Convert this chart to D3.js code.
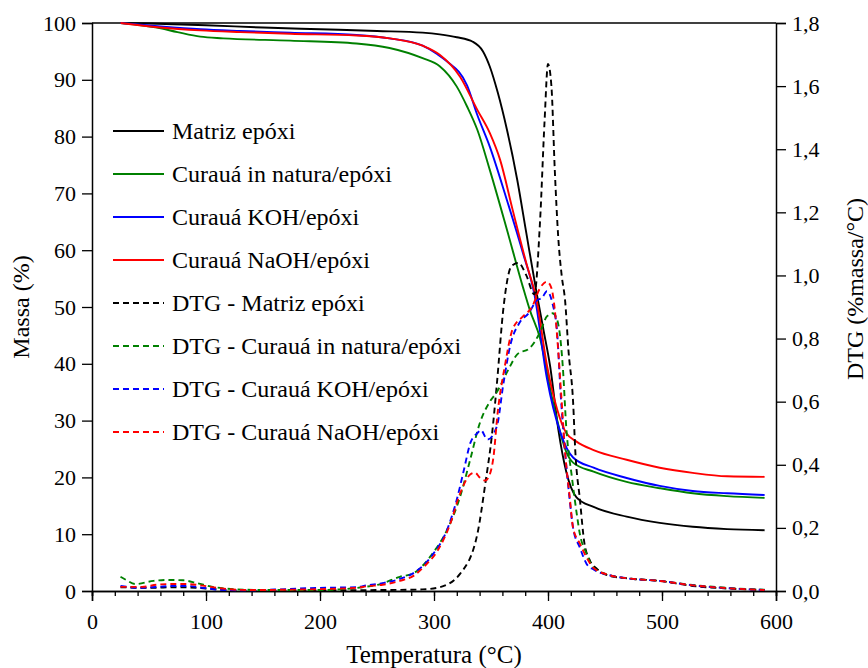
<!DOCTYPE html>
<html><head><meta charset="utf-8">
<script src="https://cdn.jsdelivr.net/npm/d3@7"></script>
<style>body{margin:0;background:#fff}svg{display:block}text{font-family:"Liberation Serif","Times New Roman",serif;fill:#000}</style>
</head><body><svg id="c" width="868" height="668"></svg>
<script>
// ---------- data ----------
const xTicks = [0,100,200,300,400,500,600];
const yLeftTicks = [0,10,20,30,40,50,60,70,80,90,100];
const yRightTicks = [0,0.2,0.4,0.6,0.8,1.0,1.2,1.4,1.6,1.8];

const seriesNames = ["Matriz epóxi","Curauá in natura/epóxi","Curauá KOH/epóxi","Curauá NaOH/epóxi"];
const seriesColors = ["#000000","#008000","#0000ff","#ff0000"];

const massMatriz = [[25,100],[50,99.9],[100,99.6],[150,99.2],[200,98.9],[250,98.6],[290,98.3],[305,98],[320,97.5],[334,96.7],[343,95],[349,92.3],[356,87.7],[364,81.2],[373,72.4],[381,63],[390,52.5],[396,46],[402,39.4],[409,28.5],[416,21],[425,16.5],[440,14.8],[469,13.1],[498,12],[527,11.3],[557,10.9],[590,10.7]];
const massNatura = [[25,100],[40,99.7],[57,99.2],[75,98.4],[95,97.6],[115,97.3],[174,96.9],[232,96.4],[261,95.6],[290,93.8],[305,92.4],[320,88.8],[329,85.3],[338,81.2],[349,74.1],[364,63.6],[378,53.5],[384,49.5],[393,44.5],[404,33.6],[416,24.5],[422,22.6],[440,21],[469,19.2],[498,18.1],[527,17.2],[557,16.7],[590,16.4]];
const massKOH = [[25,100],[60,99.4],[95,98.9],[130,98.6],[174,98.3],[232,97.9],[261,97.3],[290,96],[303,94.5],[311,93.3],[329,89],[338,83.8],[349,78.2],[364,68.8],[378,59.5],[388,52.3],[399,37.5],[411,27.8],[422,23.5],[440,21.7],[469,19.9],[498,18.5],[527,17.6],[557,17.2],[590,16.9]];
const massNaOH = [[25,100],[60,99.2],[95,98.7],[130,98.4],[174,98.1],[232,97.8],[261,97.3],[290,96],[305,94.4],[323,90.5],[338,84.7],[349,80.6],[358,75.9],[369,67.1],[381,57.7],[390,51.2],[399,39.8],[408,32],[416,27.8],[425,26.3],[440,24.8],[469,23.1],[498,21.7],[527,20.8],[557,20.2],[590,20.1]];

const dtgMatriz = [[25,0.012],[50,0.01],[75,0.012],[100,0.008],[120,0.003],[150,0.001],[200,0.002],[250,0.003],[290,0.005],[305,0.012],[323,0.055],[338,0.18],[345,0.34],[351,0.5],[355,0.65],[361,0.9],[368,1.03],[374,1.04],[381,1.0],[388,0.94],[393,1.17],[397,1.49],[400,1.67],[403,1.6],[406,1.33],[409,1.12],[412,1.0],[415,0.92],[418,0.76],[422,0.6],[424,0.44],[428,0.29],[432,0.15],[437,0.095],[443,0.07],[454,0.048],[470,0.04],[498,0.032],[527,0.016],[557,0.008],[590,0.003]];
const dtgNatura = [[25,0.045],[30,0.035],[38,0.022],[54,0.032],[66,0.035],[80,0.034],[92,0.025],[106,0.013],[124,0.006],[150,0.003],[200,0.003],[241,0.014],[253,0.022],[270,0.045],[282,0.056],[290,0.08],[299,0.12],[311,0.19],[323,0.3],[332,0.42],[340,0.53],[349,0.6],[355,0.63],[365,0.7],[373,0.75],[384,0.77],[393,0.82],[399,0.87],[404,0.88],[408,0.86],[413,0.71],[416,0.52],[421,0.36],[425,0.25],[428,0.18],[434,0.117],[440,0.073],[454,0.05],[470,0.04],[498,0.032],[527,0.019],[557,0.01],[590,0.004]];
const dtgKOH = [[25,0.016],[30,0.014],[39,0.01],[57,0.013],[71,0.016],[83,0.016],[97,0.01],[112,0.004],[136,0.002],[170,0.006],[200,0.01],[232,0.012],[241,0.018],[255,0.025],[270,0.038],[285,0.064],[299,0.116],[311,0.19],[320,0.29],[326,0.38],[332,0.47],[338,0.5],[341,0.51],[347,0.48],[355,0.52],[361,0.66],[367,0.78],[375,0.85],[383,0.88],[390,0.92],[395,0.93],[399,0.95],[404,0.91],[408,0.82],[411,0.63],[415,0.44],[419,0.29],[422,0.2],[428,0.137],[434,0.085],[440,0.068],[454,0.05],[470,0.04],[498,0.032],[527,0.018],[557,0.009],[590,0.003]];
const dtgNaOH = [[25,0.013],[44,0.013],[57,0.02],[69,0.022],[83,0.022],[97,0.017],[112,0.009],[136,0.003],[170,0.004],[200,0.006],[232,0.01],[241,0.015],[255,0.02],[270,0.032],[282,0.048],[292,0.08],[303,0.127],[314,0.21],[323,0.31],[332,0.37],[336,0.375],[340,0.36],[345,0.35],[349,0.37],[352,0.42],[356,0.57],[362,0.71],[369,0.83],[378,0.87],[386,0.9],[393,0.96],[399,0.98],[403,0.96],[406,0.89],[409,0.76],[412,0.6],[415,0.44],[419,0.3],[422,0.2],[428,0.15],[434,0.105],[440,0.073],[454,0.05],[470,0.04],[498,0.032],[527,0.018],[557,0.009],[590,0.003]];

const massSeries = [massMatriz, massNatura, massKOH, massNaOH];
const dtgSeries = [dtgMatriz, dtgNatura, dtgKOH, dtgNaOH];

// ---------- layout ----------
const W = 868, H = 668;
const m = {left: 92, right: 92, top: 23, bottom: 77};
const svg = d3.select("#c");
const x = d3.scaleLinear().domain([0,600]).range([m.left, W - m.right]);
const yL = d3.scaleLinear().domain([0,100]).range([H - m.bottom, m.top]);
const yR = d3.scaleLinear().domain([0,1.8]).range([H - m.bottom, m.top]);

const fmtR = d => d3.format(".1f")(d).replace(".", ",");

// frame top line
svg.append("line").attr("x1", x(0)).attr("x2", x(600)).attr("y1", yL(100)).attr("y2", yL(100))
  .attr("stroke","#000").attr("stroke-width",1.5);

// x axis with minor ticks
const gx = svg.append("g").attr("transform", `translate(0,${yL(0)})`);
gx.call(d3.axisBottom(x).tickValues(d3.range(0,601,20)).tickSize(5).tickFormat(""));
const gx2 = svg.append("g").attr("transform", `translate(0,${yL(0)})`);
gx2.call(d3.axisBottom(x).tickValues(xTicks).tickSize(10).tickPadding(12).tickFormat(d3.format("d")));
gx2.selectAll("text").attr("font-size",22);
[gx,gx2].forEach(g=>{g.select(".domain").attr("stroke-width",1.5);g.selectAll(".tick line").attr("stroke-width",1.3);});

// left axis
const gyl = svg.append("g").attr("transform", `translate(${x(0)},0)`);
gyl.call(d3.axisLeft(yL).tickValues(yLeftTicks).tickSize(10).tickPadding(6).tickFormat(d3.format("d")));
gyl.selectAll("text").attr("font-size",22);
gyl.select(".domain").attr("stroke-width",1.5);
gyl.selectAll(".tick line").attr("stroke-width",1.3);

// right axis
const gyr = svg.append("g").attr("transform", `translate(${x(600)},0)`);
gyr.call(d3.axisRight(yR).tickValues(yRightTicks).tickSize(10).tickPadding(6).tickFormat(fmtR));
gyr.selectAll("text").attr("font-size",22);
gyr.select(".domain").attr("stroke-width",1.5);
gyr.selectAll(".tick line").attr("stroke-width",1.3);

svg.selectAll(".domain").attr("stroke","#000");
svg.selectAll(".tick text").attr("fill","#000").attr("font-family","Liberation Serif");

// curves
const lineL = d3.line().x(d => x(d[0])).y(d => yL(d[1])).curve(d3.curveMonotoneX);
const lineR = d3.line().x(d => x(d[0])).y(d => yR(d[1])).curve(d3.curveMonotoneX);

massSeries.forEach((s,i) => {
  svg.append("path").datum(s).attr("d", lineL).attr("fill","none")
    .attr("stroke", seriesColors[i]).attr("stroke-width",1.9);
});
dtgSeries.forEach((s,i) => {
  svg.append("path").datum(s).attr("d", lineR).attr("fill","none")
    .attr("stroke", seriesColors[i]).attr("stroke-width",1.9).attr("stroke-dasharray","6,4");
});

// legend
const legendItems = [];
seriesNames.forEach((n,i) => legendItems.push({label: n, color: seriesColors[i], dash: null}));
seriesNames.forEach((n,i) => legendItems.push({label: "DTG - " + n, color: seriesColors[i], dash: "6,4"}));
const lg = svg.append("g");
legendItems.forEach((it, i) => {
  const yy = 131 + i * 43;
  lg.append("line").attr("x1",113).attr("x2",164).attr("y1",yy).attr("y2",yy)
    .attr("stroke", it.color).attr("stroke-width",1.9).attr("stroke-dasharray", it.dash);
  lg.append("text").attr("x",172).attr("y",yy).attr("dy","0.35em").attr("font-size",24).text(it.label);
});

// axis titles
svg.append("text").attr("x", (x(0)+x(600))/2).attr("y", 663).attr("text-anchor","middle")
  .attr("font-size",25).text("Temperatura (°C)");
svg.append("text").attr("transform", `translate(29,${(yL(0)+yL(100))/2}) rotate(-90)`)
  .attr("text-anchor","middle").attr("font-size",24).text("Massa (%)");
svg.append("text").attr("transform", `translate(863,${(yL(0)+yL(100))/2 - 18}) rotate(-90)`)
  .attr("text-anchor","middle").attr("font-size",24).text("DTG (%massa/°C)");
</script></body></html>
